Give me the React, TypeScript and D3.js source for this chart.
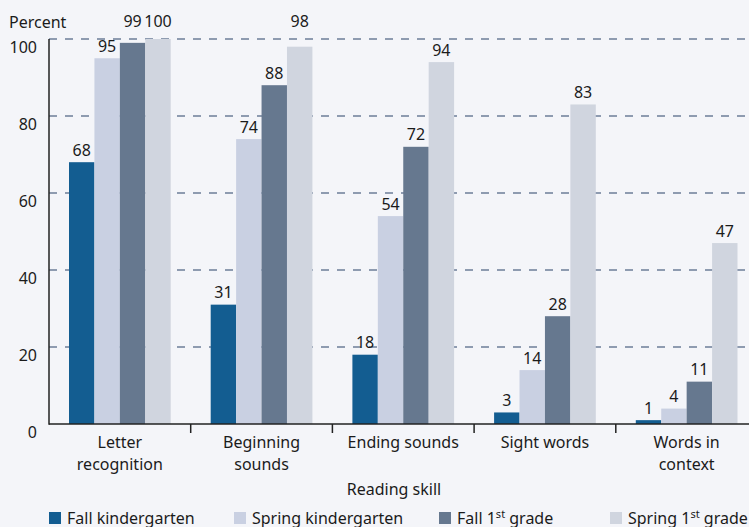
import React from "react";
import * as d3 from "d3";

const categories: string[][] = [
  ["Letter", "recognition"],
  ["Beginning", "sounds"],
  ["Ending sounds"],
  ["Sight words"],
  ["Words in", "context"],
];
const seriesNames = ["Fall kindergarten", "Spring kindergarten", "Fall 1st grade", "Spring 1st grade"];
const fallK = [68, 31, 18, 3, 1];
const springK = [95, 74, 54, 14, 4];
const fall1 = [99, 88, 72, 28, 11];
const spring1 = [100, 98, 94, 83, 47];
const yTicks = [0, 20, 40, 60, 80, 100];
const colors = ["#135d91", "#c9d0e2", "#66788f", "#d0d5df"];

const W = 749;
const H = 527;
const FONT = "'Noto Sans', sans-serif";
const TEXT = "#1b1b1b";

export default function App() {
  const series = [fallK, springK, fall1, spring1];
  const catIdx = categories.map((_, i) => String(i));
  const band = 141.7;
  const x0 = d3.scaleBand<string>().domain(catIdx).range([49, 49 + band * categories.length]).padding(0);
  const x1 = d3.scaleBand<string>().domain(seriesNames).range([20, band - 20]).padding(0);
  const y = d3.scaleLinear().domain([0, 100]).range([424, 39]);
  const labelTop = y(100) - 12;
  const labelY = (v: number) => {
    const ly = y(v) - 6.5;
    return ly < y(100) + 5 ? labelTop : ly;
  };

  return (
    <svg width={W} height={H} style={{ position: "absolute", left: 0, top: 0, fontFamily: FONT }}>
      <rect x={0} y={0} width={W} height={H} fill="#f4f5f9" />
      {/* gridlines */}
      {yTicks.filter((t) => t > 0).map((t) => (
        <line key={t} x1={49} x2={W} y1={y(t)} y2={y(t)} stroke="#8e9bb0" strokeWidth={2} strokeDasharray="8,8" />
      ))}
      {/* bars */}
      {series.map((vals, s) =>
        vals.map((v, c) => (
          <rect
            key={`${s}-${c}`}
            x={(x0(String(c)) as number) + (x1(seriesNames[s]) as number)}
            y={y(v)}
            width={x1.bandwidth()}
            height={y(0) - y(v)}
            fill={colors[s]}
          />
        ))
      )}
      {/* value labels */}
      {series.map((vals, s) =>
        vals.map((v, c) => (
          <text
            key={`l${s}-${c}`}
            x={(x0(String(c)) as number) + (x1(seriesNames[s]) as number) + x1.bandwidth() / 2}
            y={labelY(v)}
            textAnchor="middle"
            fontSize={16}
            fill={TEXT}
          >
            {v}
          </text>
        ))
      )}
      {/* axes */}
      <line x1={49} x2={49} y1={39} y2={424.75} stroke="#222" strokeWidth={1.5} />
      <line x1={49} x2={W} y1={424} y2={424} stroke="#222" strokeWidth={1.5} />
      {catIdx.slice(1).map((c) => (
        <line key={c} x1={x0(c)} x2={x0(c)} y1={424} y2={433} stroke="#222" strokeWidth={1.5} />
      ))}
      {yTicks.map((t) => (
        <text key={t} x={37} y={y(t) + 14} textAnchor="end" fontSize={16} fill={TEXT}>
          {t}
        </text>
      ))}
      <text x={9} y={28} fontSize={16} fill={TEXT}>Percent</text>
      {categories.map((lines, i) => (
        <text key={i} x={(x0(String(i)) as number) + band / 2} y={448} textAnchor="middle" fontSize={16} fill={TEXT}>
          {lines.map((l, j) => (
            <tspan key={j} x={(x0(String(i)) as number) + band / 2} dy={j === 0 ? 0 : 22}>
              {l}
            </tspan>
          ))}
        </text>
      ))}
      <text x={394} y={495} textAnchor="middle" fontSize={16} fill={TEXT}>Reading skill</text>
      {/* legend */}
      {[49, 234, 439, 610].map((lx, i) => (
        <g key={i}>
          <rect x={lx} y={512} width={12} height={12} fill={colors[i]} />
          <text x={lx + 18} y={524} fontSize={16} fill={TEXT}>
            {i === 2 || i === 3 ? (
              <>
                {i === 2 ? "Fall 1" : "Spring 1"}
                <tspan dy={-6} fontSize={11}>st</tspan>
                <tspan dy={6}> grade</tspan>
              </>
            ) : (
              seriesNames[i]
            )}
          </text>
        </g>
      ))}
    </svg>
  );
}
